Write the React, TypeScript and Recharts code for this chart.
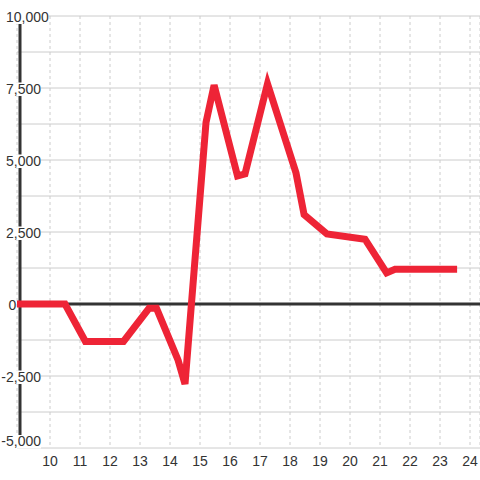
import React from 'react';
import { LineChart, Line, XAxis, YAxis, CartesianGrid, ReferenceLine } from 'recharts';

const xValues = [8.9, 10.5, 11.18, 12.45, 13.3, 13.55, 14.27, 14.5, 15.2, 15.47, 16.25, 16.5, 17.25, 18.2, 18.47, 19.23, 20.5, 21.22, 21.5, 23.57];
const yValues = [0, 0, -1300, -1300, -150, -150, -1950, -2780, 6300, 7600, 4450, 4520, 7650, 4550, 3100, 2430, 2250, 1080, 1205, 1205];
const xTicks = [10, 11, 12, 13, 14, 15, 16, 17, 18, 19, 20, 21, 22, 23, 24];
const yTicks = [-5000, -3750, -2500, -1250, 0, 1250, 2500, 3750, 5000, 6250, 7500, 8750, 10000];
const yLabelTicks = [-5000, -2500, 0, 2500, 5000, 7500, 10000];

const data = xValues.map((x, i) => ({ x, y: yValues[i] }));

const FONT = '"Liberation Sans", Arial, sans-serif';
const FS = 14;

const charW = (c: string) => (c === ',' ? 0.278 : c === '-' ? 0.333 : 0.556);
const textWidth = (s: string) => s.split('').reduce((a, c) => a + charW(c), 0) * FS;

const YTick = (props: any) => {
  const { y, payload } = props;
  const v = payload.value;
  if (!yLabelTicks.includes(v)) return <g />;
  const label = v.toLocaleString('en-US');
  let x = 6;
  if (v < 0) x = 6 - 0.333 * FS;
  if (v === 0) x = 8.5;
  let baseline = y + 5.5;
  if (v === yTicks[0]) baseline = y - 2;
  const w = textWidth(label);
  return (
    <g>
      <rect x={x} y={baseline - 11} width={w} height={13.5} fill="#ffffff" />
      <text x={x} y={baseline} fontSize={FS} fill="#333" fontFamily={FONT} textAnchor="start">
        {label}
      </text>
    </g>
  );
};

export default function App() {
  return (
    <div style={{ position: 'absolute', left: 0, top: 0, width: 480, height: 480, background: '#ffffff' }}>
      <LineChart width={480} height={480} data={data} margin={{ top: 16, right: 0, bottom: 0, left: 0 }}>
        <CartesianGrid horizontal vertical={false} stroke="#cccccc" />
        <CartesianGrid horizontal={false} vertical stroke="#cccccc" strokeDasharray="3 3" />
        <XAxis
          type="number"
          dataKey="x"
          domain={[8.9, 24.333]}
          ticks={xTicks}
          interval={0}
          allowDataOverflow
          axisLine={false}
          tickLine={false}
          height={32}
          tick={{ fill: '#333', fontSize: FS, fontFamily: FONT }}
        />
        <ReferenceLine x={9} stroke="#333" strokeWidth={3} />
        <ReferenceLine y={0} stroke="#333" strokeWidth={3} />
        <Line
          type="linear"
          dataKey="y"
          stroke="#ee2436"
          strokeWidth={7}
          dot={false}
          activeDot={false}
          isAnimationActive={false}
        />
        <YAxis
          type="number"
          domain={[-5000, 10000]}
          ticks={yTicks}
          interval={0}
          allowDataOverflow
          width={17}
          axisLine={false}
          tickLine={false}
          tick={YTick}
        />
      </LineChart>
    </div>
  );
}
